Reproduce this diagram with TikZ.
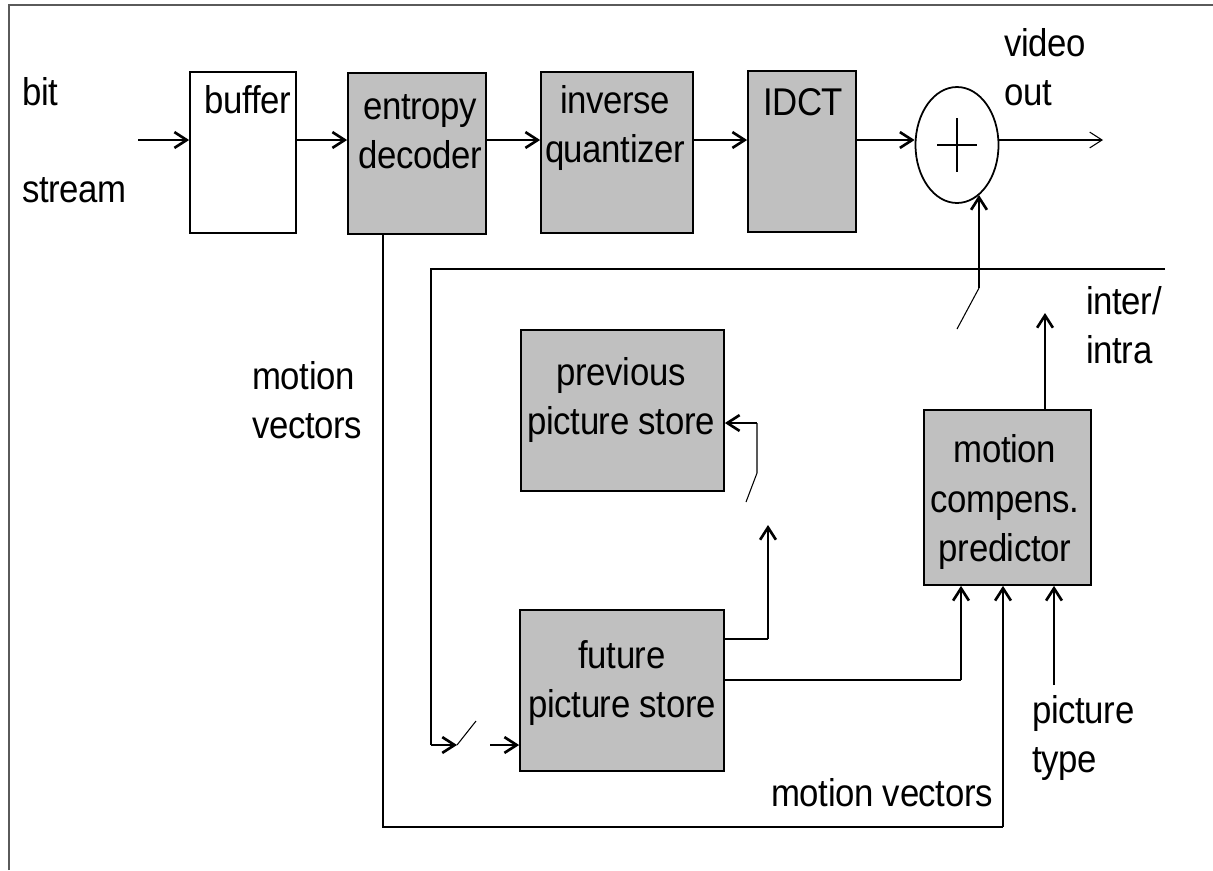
\documentclass[tikz,border=0pt]{standalone}
\usepackage{fontspec}
\setmainfont{Liberation Sans}[LetterSpace=-1,FakeStretch=0.9]
\usetikzlibrary{shapes.geometric,arrows.meta}
\definecolor{boxgray}{RGB}{192,192,192}
\definecolor{framegray}{RGB}{90,90,90}

\begin{document}
\begin{tikzpicture}[
    x=0.02cm, y=-0.02cm,
    >={Straight Barb[length=7pt,width=9pt]},
    block/.style={draw, fill=boxgray, line width=1pt, inner sep=0pt},
    lbl/.style={font=\fontsize{22}{28}\selectfont, inner sep=0pt, align=center},
    lbll/.style={lbl, align=left, anchor=west},
    sig/.style={->, line width=1.5pt},
    wire/.style={line width=0.6pt}
]
\useasboundingbox (0,0) rectangle (1213,870);

% frame
\draw[framegray, line width=1pt] (9,870) -- (9,5) -- (1213,5);

% decoder chain
\node[block, fill=white, minimum width=2.12cm, minimum height=3.22cm] (buf) at (243,152.5) {};
\node[block, minimum width=2.76cm, minimum height=3.22cm] (ent) at (417,153.5) {};
\node[block, minimum width=3.04cm, minimum height=3.22cm] (iq) at (617,152.5) {};
\node[block, minimum width=2.16cm, minimum height=3.22cm] (idct) at (802,151.5) {};
\node[draw, ellipse, line width=1pt, inner sep=0pt,
      minimum width=1.66cm, minimum height=2.32cm] (sum) at (957,145) {};
\draw[line width=1.2pt] ([xshift=-0.4cm]sum.center) -- ([xshift=0.4cm]sum.center);
\draw[line width=1.2pt] ([yshift=0.54cm]sum.center) -- ([yshift=-0.54cm]sum.center);

% stores and predictor
\node[block, minimum width=4.06cm, minimum height=3.22cm] (prev) at (622.5,410.5) {};
\node[block, minimum width=4.08cm, minimum height=3.22cm] (fut) at (622,690.5) {};
\node[block, minimum width=3.34cm, minimum height=3.5cm] (mcp) at (1007.5,497.5) {};

% texts
\node[lbl] (buf-t) at (248,100) {buffer};
\node[lbl] (ent-t) at (420,132) {entropy\\decoder};
\node[lbl] (iq-t) at (615,128) {inverse\\quantizer};
\node[lbl] (idct-t) at (803,102) {IDCT};
\node[lbl] (prev-t) at (621,400) {previous\\picture store};
\node[lbl] (fut-t) at (622,683) {future\\picture store};
\node[lbl] (mcp-t) at (1005,502) {motion\\compens.\\predictor};
\node[lbll] (bit-t) at (22,92) {bit};
\node[lbll] (stream-t) at (22,190) {stream};
\node[lbll] (vout-t) at (1004,67) {video\\out};
\node[lbll] (mvl-t) at (252,400) {motion\\vectors};
\node[lbll] (ii-t) at (1086,325) {inter/\\intra};
\node[lbll] (pt-t) at (1032,738) {picture\\type};
\node[lbl] (mvb-t) at (882,793) {motion vectors};

% main path
\coordinate (bsin) at (138,140);
\coordinate (vout) at (1103,140);
\draw[sig] (bsin) -- (bsin -| buf.west);
\draw[sig] (buf.east |- bsin) -- (bsin -| ent.west);
\draw[sig] (ent.east |- bsin) -- (bsin -| iq.west);
\draw[sig] (iq.east |- bsin) -- (bsin -| idct.west);
\draw[sig] (idct.east |- bsin) -- (bsin -| sum.west);
\draw[wire,->] (sum.east |- bsin) -- (vout);

% motion vectors loop
\coordinate (mvl) at (383,827);
\coordinate (mvr) at (1003,827);
\draw[wire] (ent.south -| mvl) -- (mvl) -- (mvr);
\draw[sig] (mvr) -- (mvr |- mcp.south);

% inner loop and switch to future store
\coordinate (fbr) at (1165,269);
\coordinate (fbl) at (431,269);
\coordinate (sw1a) at (457,745);
\coordinate (sw1b) at (476,721);
\coordinate (sw1c) at (490,745);
\draw[wire] (fbr) -- (fbl) -- (fbl |- sw1a);
\draw[sig] (fbl |- sw1a) -- (sw1a);
\draw[wire] (sw1a) -- (sw1b);
\draw[sig] (sw1c) -- (sw1c -| fut.west);

% future -> previous
\coordinate (fp1) at (768,639);
\coordinate (sw2a) at (768,525);
\coordinate (sw2b) at (746,502);
\coordinate (sw2c) at (757,473);
\coordinate (pv1) at (757,423);
\draw[wire] (fut.east |- fp1) -- (fp1);
\draw[sig] (fp1) -- (sw2a);
\draw[wire] (sw2b) -- (sw2c) -- (pv1);
\draw[sig] (pv1) -- (pv1 -| prev.east);

% future -> predictor
\coordinate (fp2) at (961,680);
\draw[wire] (fut.east |- fp2) -- (fp2);
\draw[sig] (fp2) -- (fp2 |- mcp.south);

% picture type, inter/intra
\coordinate (ptin) at (1054,685);
\draw[sig] (ptin) -- (ptin |- mcp.south);
\coordinate (ii) at (1045,313);
\draw[sig] (mcp.north -| ii) -- (ii);

% switch into adder
\coordinate (sw3a) at (957,329);
\coordinate (sw3b) at (979,288);
\draw[wire] (sw3a) -- (sw3b);
\draw[sig] (sw3b) -- (sw3b |- sum.-66);

\end{tikzpicture}
\end{document}
